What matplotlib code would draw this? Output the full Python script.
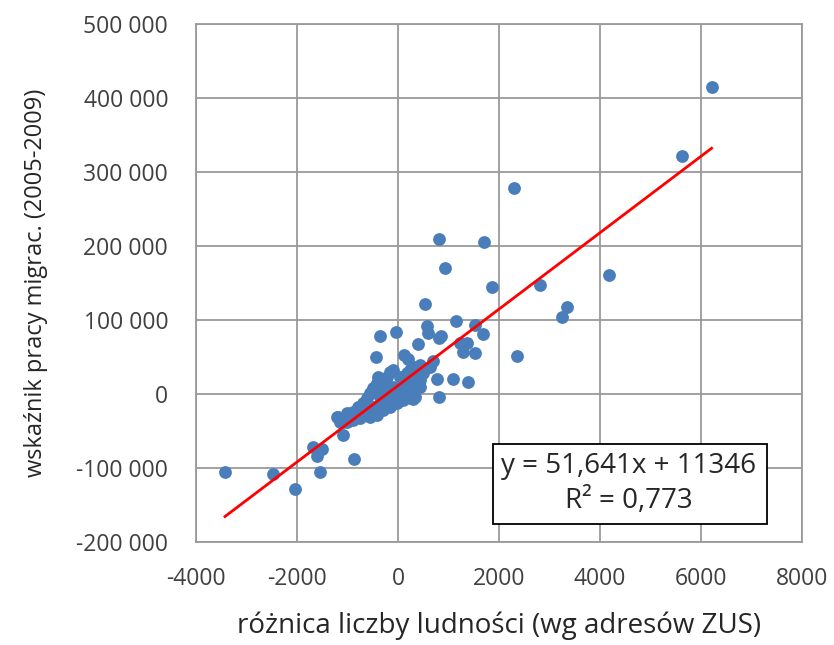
import matplotlib
matplotlib.use("Agg")
import matplotlib.pyplot as plt
from matplotlib.patches import Rectangle
from matplotlib.ticker import FuncFormatter

# roznica liczby ludnosci (x) vs wskaznik pracy migrac. (y)
x_vals = [6210, 5620, 2300, 4180, 2810, 810, 1710, 930, 1860, 3350, 3250, 2360,
          540, 1150, 575, 600, 1525, 1680, -45, -355, 820, 860, 390, 1360, 1230,
          1290, 1525, -440, 120, 205, 700, 435, 635, 780, 1085, 1380, 805, 300,
          -1680, -1510, -1610, -870, -3425, -2480, -1545, -2045, -1085, -1180,
          -1085,
          -224, -390, -92, 238, 337, 469, 370, 436, 337, 238, 106, -26, -158,
          -290, -422, -554, -752, -885, -1016, -1214, -1149, -1016, -885, -786,
          -687, -620, -554, -489, -422, -158, 40, 106, 172, -356, -224, -92, 40,
          172, -26, -158, -290, -489, -687, 238, 303, 436, 502, -356, -290]
y_vals = [415000, 322000, 278000, 161000, 147000, 210000, 205000, 170000, 144000,
          117000, 104000, 52000, 121000, 98000, 92000, 83000, 93000, 81000, 84000,
          79000, 75000, 79000, 67000, 69000, 68500, 57000, 56000, 50000, 53000,
          47000, 44000, 39000, 37000, 20000, 20000, 16000, -4000, -7000, -71000,
          -74000, -84000, -88000, -105000, -108500, -106000, -128000, -55000,
          -31000, -37400,
          23400, 23400, 32400, 32400, 36900, 32400, 23400, 18900, -3600, -5800,
          -8100, -12600, -17100, -21600, -28400, -30600, -32900, -35100, -37400,
          -30600, -37400, -26100, -23900, -17100, -12600, -5800, 900, 7700, 14400,
          30100, 23400, 18900, 27900, -3600, 5400, 9900, 5400, 9900, 900, -3600,
          -12600, -17100, -23900, 14400, 5400, 9900, 27900, 9900, 18900]

# trend line from the equation shown on the chart
slope = 51.641
intercept = 11346
eq_text = "y = 51,641x + 11346"
r2_text = "R² = 0,773"

x_ticks = [-4000, -2000, 0, 2000, 4000, 6000, 8000]
y_ticks = [-200000, -100000, 0, 100000, 200000, 300000, 400000, 500000]

plt.rcParams['font.family'] = ['Open Sans', 'DejaVu Sans']
plt.rcParams['axes.unicode_minus'] = False

fig = plt.figure(figsize=(8.34, 6.45), dpi=100)
ax = fig.add_axes([0.235, 0.1597, 0.7266, 0.8031])

grid_col = '#9a9a9a'
ax.set_axisbelow(True)
ax.grid(True, color=grid_col, linewidth=1.3)
for s in ax.spines.values():
    s.set_color(grid_col)
    s.set_linewidth(1.3)

ax.scatter(x_vals, y_vals, s=85, color='#4a7ebb', linewidths=0, zorder=3)

x0, x1 = min(x_vals), max(x_vals)
ax.plot([x0, x1], [slope * x0 + intercept, slope * x1 + intercept],
        color='#ff0000', linewidth=2, zorder=4)

ax.set_xlim(-4000, 8000)
ax.set_ylim(-200000, 500000)
ax.set_xticks(x_ticks)
ax.set_yticks(y_ticks)
ax.yaxis.set_major_formatter(FuncFormatter(lambda v, p: f"{int(v):,}".replace(",", " ")))
ax.tick_params(length=0, labelsize=16.5, colors='#404040', pad=20)
ax.tick_params(axis='x', pad=18)

ax.set_xlabel("różnica liczby ludności (wg adresów ZUS)", fontsize=20, color='#262626', labelpad=15)
ax.set_ylabel("wskaźnik pracy migrac. (2005-2009)", fontsize=17, color='#262626', labelpad=20)

ax.add_patch(Rectangle((0.4896, 0.0347), 0.4521, 0.1545, transform=ax.transAxes,
                       facecolor='white', edgecolor='black', linewidth=1.3, zorder=5))
ax.text(0.7145, 0.1467, eq_text, transform=ax.transAxes, ha='center', va='center',
        fontsize=20, color='#262626', zorder=6)
ax.text(0.7145, 0.0792, r2_text, transform=ax.transAxes, ha='center', va='center',
        fontsize=20, color='#262626', zorder=6)

fig.savefig("out.png", dpi=100)
